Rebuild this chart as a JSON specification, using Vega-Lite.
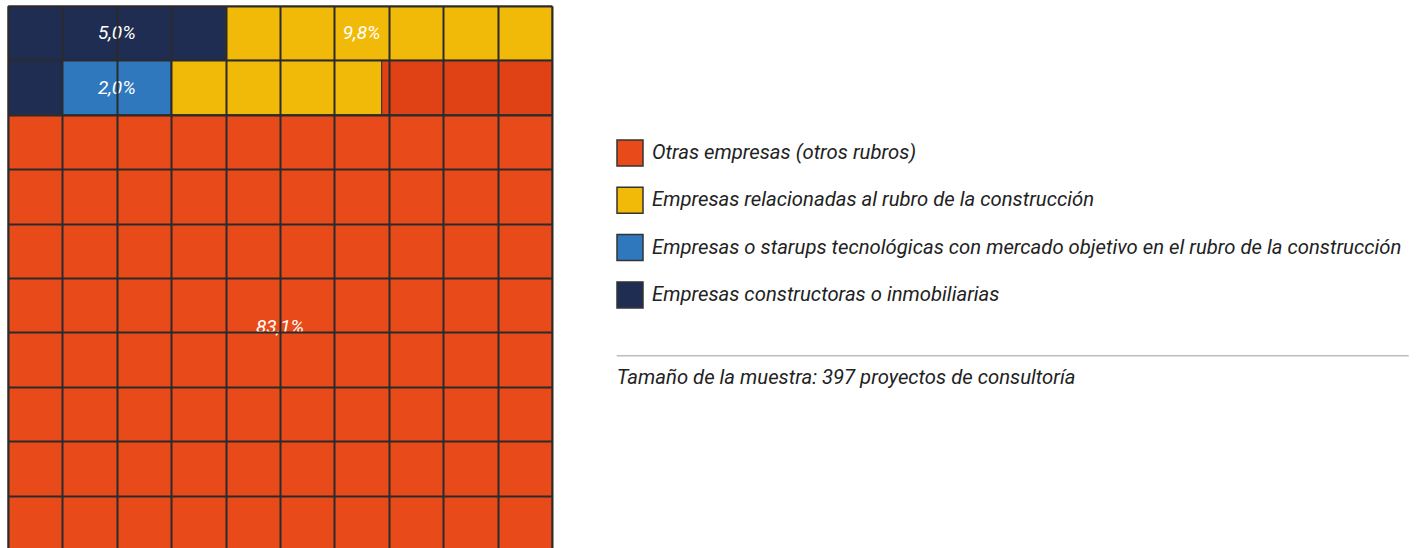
{
  "$schema": "https://vega.github.io/schema/vega-lite/v6.json",
  "width": 544,
  "height": 544,
  "autosize": {"type": "none"},
  "padding": {"left": 8, "top": 6, "right": 867, "bottom": 0},
  "background": "white",
  "config": {
    "view": {"stroke": null},
    "font": "Roboto",
    "text": {"font": "Roboto"}
  },
  "datasets": {
    "segments": [
      {"cat": "Empresas constructoras o inmobiliarias", "y0": 0, "y1": 1, "x0": 0, "x1": 4},
      {"cat": "Empresas relacionadas al rubro de la construcción", "y0": 0, "y1": 1, "x0": 4, "x1": 10},
      {"cat": "Empresas constructoras o inmobiliarias", "y0": 1, "y1": 2, "x0": 0, "x1": 1},
      {"cat": "Empresas o starups tecnológicas con mercado objetivo en el rubro de la construcción", "y0": 1, "y1": 2, "x0": 1, "x1": 3},
      {"cat": "Empresas relacionadas al rubro de la construcción", "y0": 1, "y1": 2, "x0": 3, "x1": 6.87},
      {"cat": "Otras empresas (otros rubros)", "y0": 1, "y1": 2, "x0": 6.87, "x1": 10},
      {"cat": "Otras empresas (otros rubros)", "y0": 2, "y1": 10, "x0": 0, "x1": 10}
    ],
    "labels": [
      {"label": "5,0%", "cx": 2, "cy": 0.5},
      {"label": "9,8%", "cx": 6.5, "cy": 0.5},
      {"label": "2,0%", "cx": 2, "cy": 1.5},
      {"label": "83,1%", "cx": 5, "cy": 5.9}
    ],
    "note": [
      {"text": "Tamaño de la muestra: 397 proyectos de consultoría"}
    ]
  },
  "layer": [
    {
      "data": {"name": "segments"},
      "mark": {"type": "rect", "stroke": "#333333", "strokeWidth": 1},
      "encoding": {
        "x": {"field": "x0", "type": "quantitative", "scale": {"domain": [0, 10]},
          "axis": {"title": null, "labels": false, "ticks": false, "domain": false, "grid": true, "values": [0,1,2,3,4,5,6,7,8,9,10], "gridColor": "#2b2b2b", "gridWidth": 2, "gridOpacity": 1, "zindex": 1}},
        "x2": {"field": "x1"},
        "y": {"field": "y0", "type": "quantitative", "scale": {"domain": [0, 10], "reverse": true},
          "axis": {"title": null, "labels": false, "ticks": false, "domain": false, "grid": true, "values": [0,1,2,3,4,5,6,7,8,9,10], "gridColor": "#2b2b2b", "gridWidth": 2, "gridOpacity": 1, "zindex": 1}},
        "y2": {"field": "y1"},
        "color": {
          "condition": {"test": "datum.y0 == 1 && datum.cat == 'Otras empresas (otros rubros)'", "value": "#E04216"},
          "field": "cat", "type": "nominal",
          "scale": {
            "domain": ["Otras empresas (otros rubros)", "Empresas relacionadas al rubro de la construcción", "Empresas o starups tecnológicas con mercado objetivo en el rubro de la construcción", "Empresas constructoras o inmobiliarias"],
            "range": ["#E84A1A", "#F2BA08", "#2F78BE", "#1F2D52"]
          },
          "legend": {
            "title": null,
            "orient": "none",
            "legendX": 608,
            "legendY": 133,
            "padding": 0,
            "symbolType": "square",
            "symbolSize": 676,
            "symbolStrokeColor": "#333333",
            "symbolStrokeWidth": 1.5,
            "symbolOpacity": 1,
            "labelFont": "Roboto",
            "labelFontStyle": "italic",
            "labelFontSize": 20.3,
            "labelColor": "#222222",
            "labelOffset": 8,
            "labelLimit": 1000,
            "rowPadding": 15.3
          }
        }
      }
    },
    {
      "data": {"name": "labels"},
      "mark": {"type": "text", "color": "white", "fontStyle": "italic", "fontSize": 19, "font": "Roboto", "align": "center", "baseline": "middle"},
      "encoding": {
        "x": {"field": "cx", "type": "quantitative"},
        "y": {"field": "cy", "type": "quantitative"},
        "text": {"field": "label"}
      }
    },
    {
      "data": {"name": "note"},
      "mark": {"type": "rule", "color": "#bdbdbd", "strokeWidth": 1.5},
      "encoding": {
        "x": {"datum": 11.19},
        "x2": {"datum": 25.75},
        "y": {"datum": 6.43}
      }
    },
    {
      "data": {"name": "note"},
      "mark": {"type": "text", "color": "#222222", "fontStyle": "italic", "fontSize": 20.3, "font": "Roboto", "align": "left", "baseline": "alphabetic"},
      "encoding": {
        "x": {"datum": 11.19},
        "y": {"datum": 6.95},
        "text": {"field": "text"}
      }
    }
  ]
}
